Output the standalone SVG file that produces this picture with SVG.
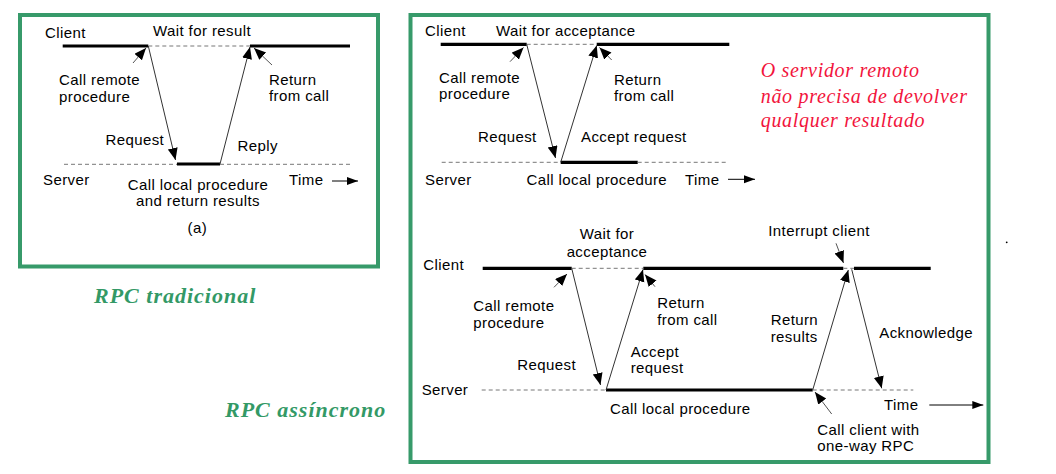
<svg xmlns="http://www.w3.org/2000/svg" width="1056" height="474" viewBox="0 0 1056 474">
<style>
.frame{fill:none;stroke:#379a6a;stroke-width:4}
.t{font-family:"Liberation Sans",Arial,sans-serif;font-size:15px;fill:#000;letter-spacing:0.4px}
.ctr{text-anchor:middle}
.thick{stroke:#000;stroke-width:3.2;fill:none}
.dash{stroke:#777;stroke-width:1;stroke-dasharray:4 3;fill:none}
.msg{stroke:#333;stroke-width:1;fill:none;marker-end:url(#ah)}
.ann{stroke:#555;stroke-width:1;fill:none;marker-end:url(#ah)}
.time{stroke:#000;stroke-width:1;fill:none;marker-end:url(#th)}
.red{font-family:"Liberation Serif","Times New Roman",serif;font-style:italic;font-size:20px;fill:#f2143c;letter-spacing:0.7px}
.grn{font-family:"Liberation Serif","Times New Roman",serif;font-style:italic;font-weight:bold;font-size:22px;fill:#339966;letter-spacing:1px}
</style>
<defs>
<marker id="ah" markerUnits="userSpaceOnUse" markerWidth="14" markerHeight="12" refX="12" refY="5" orient="auto">
<path d="M0,0 L12,5 L0,10 z" fill="#000"/>
</marker>
<marker id="th" markerUnits="userSpaceOnUse" markerWidth="12" markerHeight="10" refX="11" refY="4" orient="auto">
<path d="M0,0 L11,4 L0,8 z" fill="#000"/>
</marker>
</defs>
<rect width="1056" height="474" fill="#fff"/>

<g id="panel-traditional">
<rect class="frame" x="20" y="15" width="358" height="251.5"/>
<text class="t" x="45" y="38">Client</text>
<text class="t" x="153" y="36">Wait for result</text>
<text class="t" x="59" y="85">Call remote</text>
<text class="t" x="59" y="101.5">procedure</text>
<text class="t" x="269" y="85">Return</text>
<text class="t" x="269" y="101">from call</text>
<text class="t" x="105.5" y="145">Request</text>
<text class="t" x="237.5" y="150.5">Reply</text>
<text class="t" x="43" y="185">Server</text>
<text class="t ctr" x="198" y="190">Call local procedure</text>
<text class="t ctr" x="198" y="206">and return results</text>
<text class="t" x="289" y="185">Time</text>
<text class="t" x="187.5" y="233">(a)</text>
<path class="thick" d="M62.7,46 H148.3 M250,46 H350 M177,164 H220"/>
<path class="dash" d="M148.3,46 H250 M64,164.3 H177 M220,164.3 H350"/>
</g>

<g id="panel-async-top">
<rect class="frame" x="410.5" y="15" width="578" height="447"/>
<text class="t" x="425" y="36">Client</text>
<text class="t" x="496" y="36">Wait for acceptance</text>
<text class="t" x="439" y="82.5">Call remote</text>
<text class="t" x="439" y="99.3">procedure</text>
<text class="t" x="614" y="85">Return</text>
<text class="t" x="614" y="100.7">from call</text>
<text class="t" x="478" y="141.7">Request</text>
<text class="t" x="581" y="141.7">Accept request</text>
<text class="t" x="425" y="185">Server</text>
<text class="t" x="526.5" y="185">Call local procedure</text>
<text class="t" x="685" y="185">Time</text>
<path class="thick" d="M440.7,44.3 H526.7 M596.7,44.3 H729.3 M560.7,162.3 H637.7"/>
<path class="dash" d="M526.7,44.3 H596.7 M441.7,162.3 H560.7 M637.7,162.3 H728.3"/>
</g>

<g id="panel-async-bottom">
<text class="t ctr" x="607" y="239.3">Wait for</text>
<text class="t ctr" x="607" y="256.7">acceptance</text>
<text class="t" x="423.3" y="270">Client</text>
<text class="t" x="473.3" y="310.7">Call remote</text>
<text class="t" x="473.3" y="328.3">procedure</text>
<text class="t" x="657.3" y="308.3">Return</text>
<text class="t" x="657.3" y="325">from call</text>
<text class="t" x="517.3" y="370">Request</text>
<text class="t" x="630.7" y="356.7">Accept</text>
<text class="t" x="630.7" y="373.3">request</text>
<text class="t" x="421.7" y="395">Server</text>
<text class="t" x="610" y="414">Call local procedure</text>
<text class="t" x="768.3" y="236">Interrupt client</text>
<text class="t" x="770.7" y="325">Return</text>
<text class="t" x="770.7" y="341.7">results</text>
<text class="t" x="879.3" y="338.3">Acknowledge</text>
<text class="t" x="884" y="410">Time</text>
<text class="t" x="817.3" y="435">Call client with</text>
<text class="t" x="817.3" y="450.7">one-way RPC</text>
<path class="thick" d="M482.7,268.3 H571.7 M643.3,268.3 H843.3 M854,268.3 H930.7 M606,390 H812.7"/>
<path class="dash" d="M571.7,268.3 H643.3 M843.3,268.3 H854 M481.7,390 H606 M812.7,390 H913.3"/>
</g>

<g id="note-red">
<text class="red" x="760.7" y="76.7">O servidor remoto</text>
<text class="red" x="760.7" y="103.3">não precisa de devolver</text>
<text class="red" x="760.7" y="127.3">qualquer resultado</text>
</g>

<g id="label-traditional">
<text class="grn" x="94" y="303.3">RPC tradicional</text>
</g>
<g id="label-async">
<text class="grn" x="225" y="416.7">RPC assíncrono</text>
</g>

<g id="connectors">
<line class="msg" x1="148.3" y1="46" x2="175.5" y2="160"/>
<line class="msg" x1="220" y1="164" x2="250" y2="47"/>
<line class="ann" x1="133" y1="63" x2="146" y2="48"/>
<line class="ann" x1="272" y1="65" x2="254" y2="48"/>
<line class="time" x1="332" y1="181" x2="358" y2="181"/>

<line class="msg" x1="526.7" y1="44.3" x2="555.5" y2="158"/>
<line class="msg" x1="560.7" y1="162.3" x2="596.7" y2="45.5"/>
<line class="ann" x1="510" y1="61.7" x2="523.5" y2="47.5"/>
<line class="ann" x1="611.7" y1="60" x2="599.5" y2="47.5"/>
<line class="time" x1="728" y1="179.3" x2="755" y2="179.3"/>

<line class="msg" x1="571.7" y1="268.3" x2="600.5" y2="385"/>
<line class="msg" x1="606" y1="390" x2="643" y2="269.5"/>
<line class="ann" x1="554" y1="287.3" x2="567" y2="274"/>
<line class="ann" x1="655" y1="286.7" x2="645" y2="274.5"/>
<line class="msg" x1="812.7" y1="390" x2="848.3" y2="270"/>
<line class="ann" x1="836" y1="243.3" x2="843.5" y2="263"/>
<line class="msg" x1="851.7" y1="269.3" x2="881.7" y2="388.3"/>
<line class="ann" x1="831.7" y1="414" x2="815" y2="392"/>
<line class="time" x1="929.3" y1="405" x2="983.3" y2="405"/>
</g>

<circle cx="1006.7" cy="242.3" r="0.9" fill="#000"/>
</svg>
